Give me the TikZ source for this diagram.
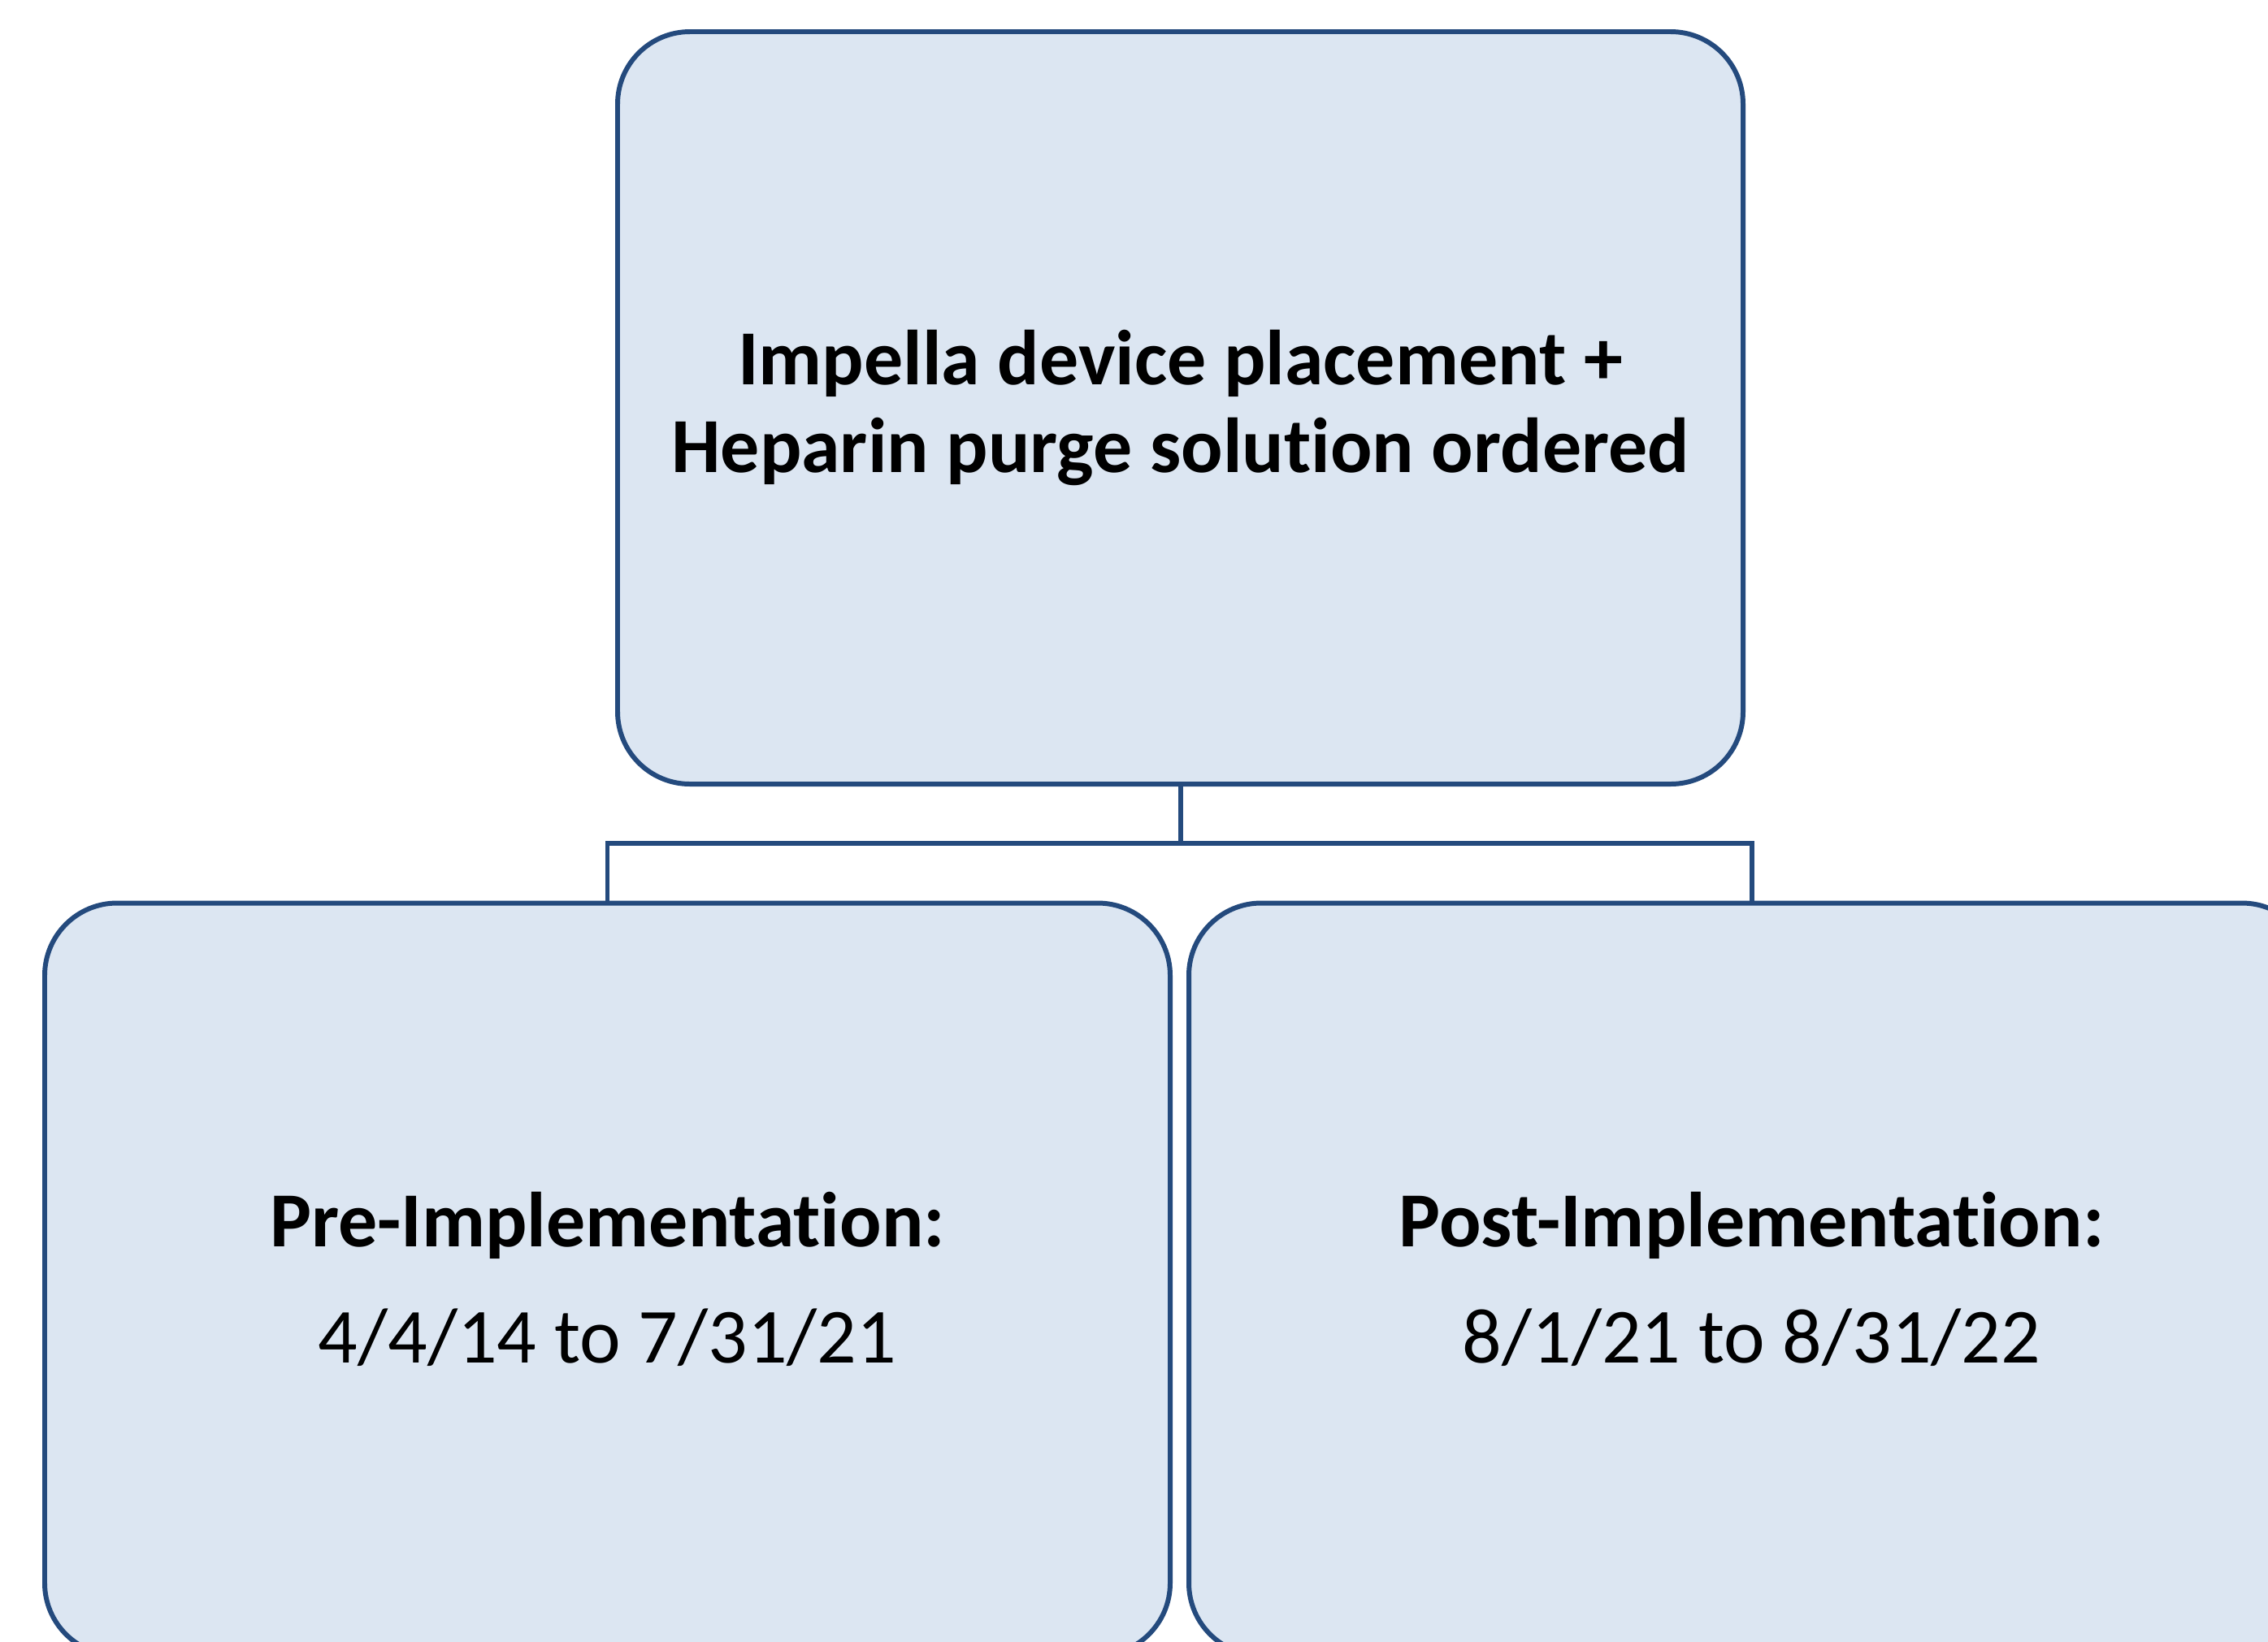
\documentclass[tikz,border=0pt]{standalone}
\usepackage{fontspec}
\setmainfont{Carlito}[Ligatures=NoCommon]
\usepackage{xcolor}
\definecolor{boxfill}{HTML}{DCE6F2}
\definecolor{boxline}{HTML}{244A7D}

\begin{document}
\begin{tikzpicture}[
    phase/.style={draw=boxline, fill=boxfill, line width=1.7pt, rounded corners=0.89cm,
        minimum width=13.85cm, minimum height=9.26cm, align=center, inner sep=0pt,
        font=\fontsize{27.3}{30.5}\selectfont},
    link/.style={draw=boxline, line width=1.7pt}
]
    \useasboundingbox (0,0) rectangle (27.91,-20.20);
    \clip (0,0) rectangle (27.91,-20.20);

    \node[phase] (top) at (14.525,-5.02) {\textbf{Impella device placement +}\\\textbf{Heparin purge solution ordered}};

    \node[phase] (pre) at (7.475,-15.745) {\textbf{Pre-Implementation:}\\[0.36cm]4/4/14 to 7/31/21};
    \node[phase] (post) at (21.555,-15.745) {\textbf{Post-Implementation:}\\[0.36cm]8/1/21 to 8/31/22};

    \coordinate (split) at (14.525,-10.38);
    \draw[link] (top.south) -- (split);
    \draw[link] (pre.north) |- (split) -| (post.north);
\end{tikzpicture}
\end{document}
